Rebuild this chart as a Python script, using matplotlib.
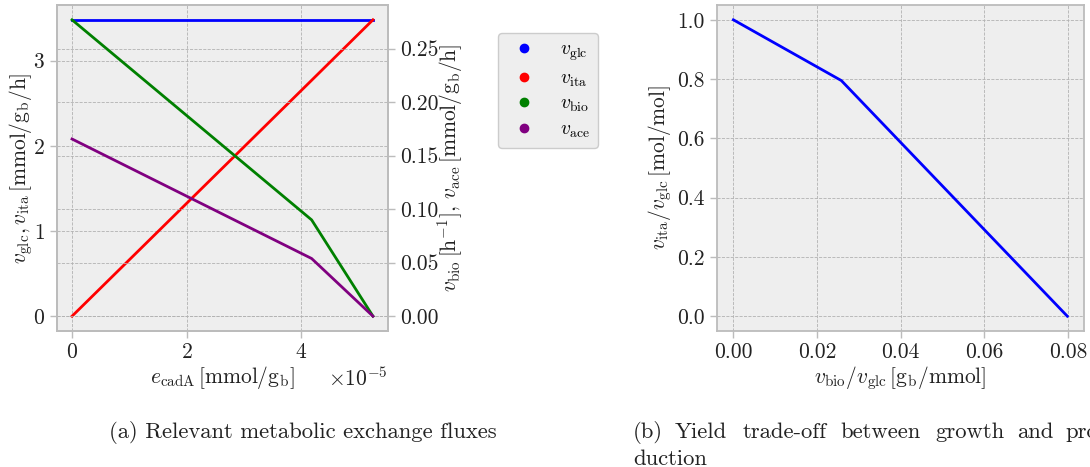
import matplotlib
matplotlib.use("Agg")
import matplotlib.pyplot as plt
from matplotlib.lines import Line2D

plt.rcParams.update({
    "font.family": "serif",
    "font.serif": ["cmr10"],
    "mathtext.fontset": "cm",
    "axes.formatter.use_mathtext": True,
    "axes.unicode_minus": True,
})

# ---- data (a) ----
e_cadA = [0.0, 4.18e-5, 5.25e-5]
v_glc = [3.48, 3.48, 3.48]
v_ita = [0.0, 2.77, 3.48]
v_bio = [0.277, 0.090, 0.0]
v_ace = [0.1656, 0.0539, 0.0]

# ---- data (b) ----
yield_bio = [0.0, 0.0258, 0.0798]
yield_ita = [1.0, 0.795, 0.0]

xticks_a = [0, 2e-5, 4e-5]
yticks_a = [0, 1, 2, 3]
yticks_a2 = [0.0, 0.05, 0.10, 0.15, 0.20, 0.25]
xticks_b = [0.0, 0.02, 0.04, 0.06, 0.08]
yticks_b = [0.0, 0.2, 0.4, 0.6, 0.8, 1.0]

caption_a = "(a) Relevant metabolic exchange fluxes"
caption_b_words = ["(b)", "Yield", "trade-off", "between", "growth", "and", "pro-"]
caption_b_line2 = "duction"

FACE = "#eeeeee"
SPINE = "#bcbcbc"
GRID = "#b2b2b2"
TXT = "#222222"
FS = 15.5
LW = 2.0

fig = plt.figure(figsize=(10.9, 4.67), dpi=100)
W, H = 1090, 467


def style(ax, grid=True):
    ax.set_facecolor(FACE)
    for s in ax.spines.values():
        s.set_color(SPINE)
        s.set_linewidth(1.3)
    ax.tick_params(colors=SPINE, labelcolor=TXT, labelsize=FS, length=5, width=1.0, direction="out")
    if grid:
        ax.grid(True, color=GRID, linestyle="--", linewidth=0.6)
    ax.set_axisbelow(True)


ax = fig.add_axes([57 / W, 1 - 331 / H, (388 - 57) / W, (331 - 5) / H])
style(ax)
ax.plot(e_cadA, v_glc, color="blue", lw=LW)
ax.plot(e_cadA, v_ita, color="red", lw=LW)
ax.set_xticks(xticks_a)
ax.set_yticks(yticks_a)
ax.tick_params(axis="both", which="both", top=False, right=False)
ax.xaxis.get_offset_text().set_fontsize(FS)
ax.xaxis.get_offset_text().set_color(TXT)
ax.set_xlabel(r"$e_\mathrm{cadA}\,[\mathrm{mmol/g_b}]$", fontsize=FS, color=TXT, labelpad=1)
ax.set_ylabel(r"$v_\mathrm{glc}, v_\mathrm{ita}\,[\mathrm{mmol/g_b/h}]$", fontsize=FS, color=TXT, labelpad=-1)

ax2 = ax.twinx()
ax2.set_facecolor("none")
for s in ax2.spines.values():
    s.set_color(SPINE)
    s.set_linewidth(1.3)
ax2.tick_params(colors=SPINE, labelcolor=TXT, labelsize=FS, length=5, width=1.0, direction="out")
ax2.grid(True, color=GRID, linestyle="--", linewidth=0.6)
ax2.plot(e_cadA, v_bio, color="green", lw=LW)
ax2.plot(e_cadA, v_ace, color="purple", lw=LW)
ax2.set_yticks(yticks_a2)
ax2.set_yticklabels([f"{t:.2f}" for t in yticks_a2])
ax2.set_ylabel(r"$v_\mathrm{bio}\,[\mathrm{h^{-1}}],\, v_\mathrm{ace}\,[\mathrm{mmol/g_b/h}]$", fontsize=FS, color=TXT, labelpad=-2)

handles = [Line2D([], [], marker="o", linestyle="none", color=c, markersize=6)
           for c in ["blue", "red", "green", "purple"]]
labels = [r"$v_\mathrm{glc}$", r"$v_\mathrm{ita}$", r"$v_\mathrm{bio}$", r"$v_\mathrm{ace}$"]
leg = fig.legend(handles, labels, loc="upper left", bbox_to_anchor=(498 / W, 1 - 33 / H),
                 fontsize=14, frameon=True, facecolor=FACE, edgecolor="#cccccc", framealpha=1,
                 handlelength=1.9, handletextpad=0.9, labelspacing=0.33, borderpad=0.4,
                 borderaxespad=0)

bx = fig.add_axes([716.7 / W, 1 - 331 / H, (1084 - 716.7) / W, (331 - 5) / H])
style(bx)
bx.plot(yield_bio, yield_ita, color="blue", lw=LW)
bx.set_xticks(xticks_b)
bx.set_xticklabels([f"{t:.2f}" for t in xticks_b])
bx.set_yticks(yticks_b)
bx.set_yticklabels([f"{t:.1f}" for t in yticks_b])
bx.set_xlabel(r"$v_\mathrm{bio}/v_\mathrm{glc}\,[\mathrm{g_b/mmol}]$", fontsize=FS, color=TXT, labelpad=1)
bx.set_ylabel(r"$v_\mathrm{ita}/v_\mathrm{glc}\,[\mathrm{mol/mol}]$", fontsize=FS, color=TXT, labelpad=2)

CFS = 16.3
fig.text(303 / W, 1 - 432 / H, caption_a, ha="center", va="center", fontsize=CFS, color=TXT)
word_x = [633, 675, 743, 840, 935, 1017, 1065]
for wx, w in zip(word_x, caption_b_words):
    fig.text(wx / W, 1 - 432 / H, w, ha="left", va="center", fontsize=CFS, color=TXT)
fig.text(633 / W, 1 - 459 / H, caption_b_line2, ha="left", va="center", fontsize=CFS, color=TXT)

fig.savefig("out.png", dpi=100)
